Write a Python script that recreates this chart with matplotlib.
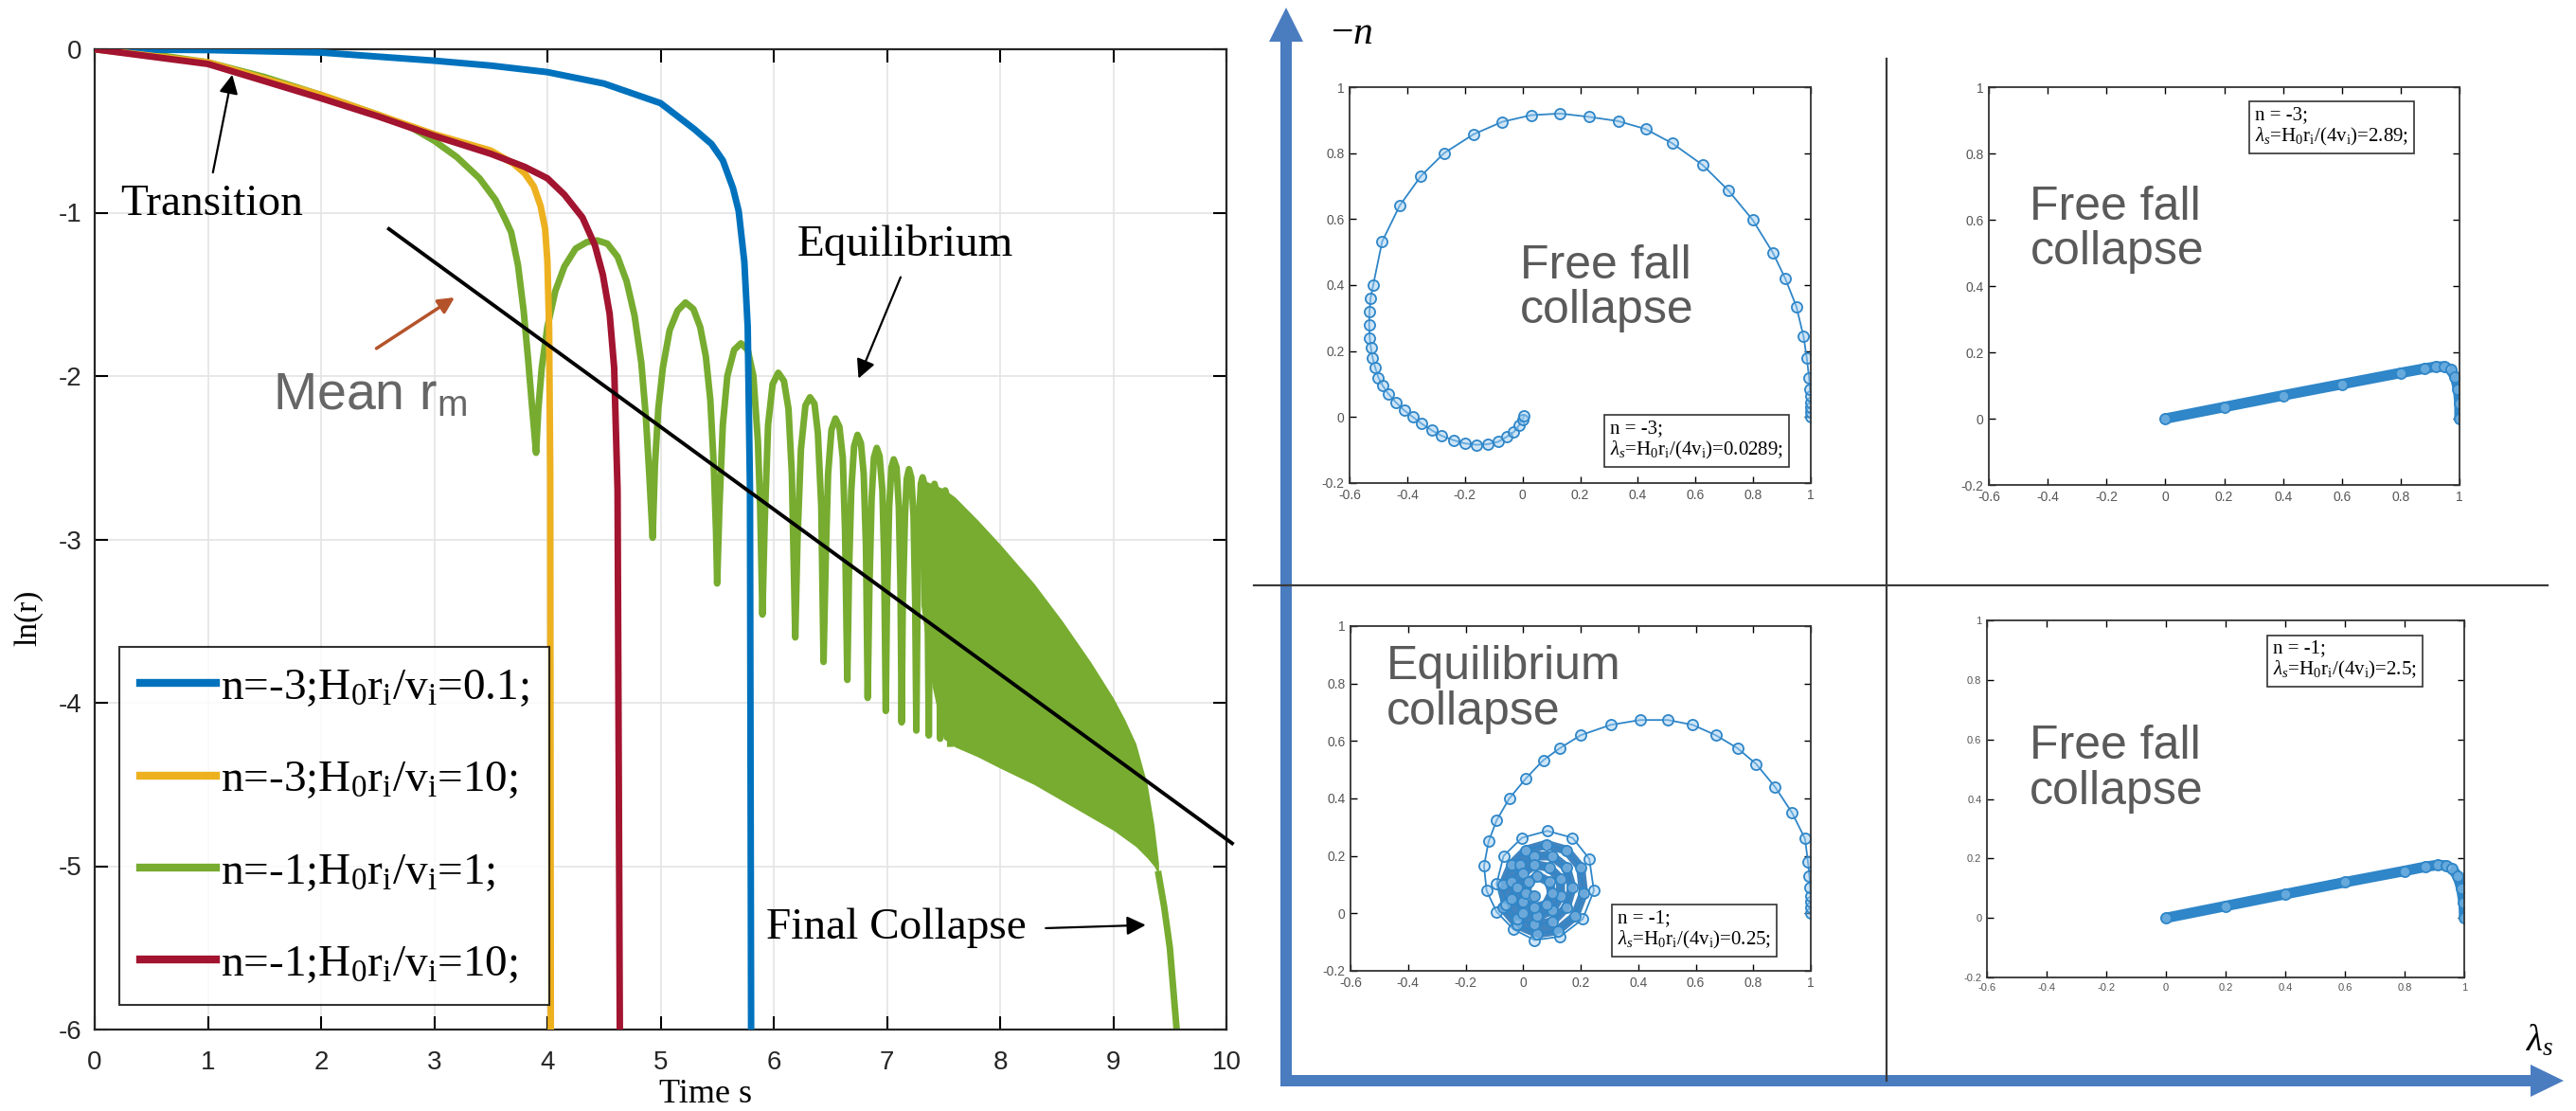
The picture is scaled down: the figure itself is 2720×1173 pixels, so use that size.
import numpy as np
import matplotlib.pyplot as plt

plt.rcParams['font.family'] = ['Liberation Sans', 'DejaVu Sans']
plt.rcParams['mathtext.fontset'] = 'custom'
plt.rcParams['mathtext.rm'] = 'Liberation Serif'
plt.rcParams['mathtext.it'] = 'Liberation Serif:italic'
plt.rcParams['mathtext.sf'] = 'Liberation Sans'
plt.rcParams['axes.unicode_minus'] = False

# ---------------- left panel: ln(r) against time ----------------
blue_t = [0, 1, 2, 3, 3.5, 4, 4.5, 5.0, 5.3, 5.45, 5.55, 5.64, 5.69, 5.74, 5.77, 5.79, 5.8]
blue_v = [0, -0.005, -0.02, -0.07, -0.1, -0.14, -0.21, -0.33, -0.49, -0.58, -0.68, -0.85, -0.99, -1.3, -1.7, -2.7, -6]

yellow_t = [0, 1, 2, 2.5, 3, 3.3, 3.5, 3.7, 3.8, 3.88, 3.94, 3.98, 4.0, 4.015, 4.025, 4.03]
yellow_v = [0, -0.08, -0.28, -0.4, -0.52, -0.58, -0.62, -0.7, -0.76, -0.84, -0.96, -1.1, -1.3, -1.7, -2.6, -6]

red_t = [0, 1, 2, 2.5, 3, 3.5, 3.8, 4.0, 4.15, 4.31, 4.42, 4.49, 4.55, 4.59, 4.62, 4.64]
red_v = [0, -0.09, -0.3, -0.41, -0.53, -0.64, -0.72, -0.79, -0.89, -1.03, -1.2, -1.38, -1.62, -1.95, -2.7, -6]

# green: read arc by arc (trough -> peak -> trough)
green_t = [0, 0.5, 1.0, 1.5, 2.0, 2.5, 2.8, 3.0, 3.2, 3.4, 3.54, 3.62, 3.68, 3.74, 3.79, 3.83, 3.86, 3.9,
           3.92, 3.95, 4.0, 4.07, 4.15, 4.25, 4.35, 4.44, 4.53, 4.62, 4.7, 4.77, 4.83, 4.87, 4.9, 4.93,
           4.95, 4.98, 5.02, 5.08, 5.15, 5.22, 5.29, 5.35, 5.4, 5.44, 5.47, 5.49, 5.5,
           5.52, 5.55, 5.59, 5.65, 5.71, 5.77, 5.82, 5.86, 5.88, 5.9,
           5.92, 5.95, 5.99, 6.04, 6.09, 6.13, 6.16, 6.19,
           6.21, 6.24, 6.28, 6.32, 6.36, 6.39, 6.42, 6.44,
           6.46, 6.48, 6.51, 6.545, 6.58, 6.61, 6.63, 6.65,
           6.665, 6.685, 6.71, 6.74, 6.77, 6.795, 6.815, 6.83,
           6.845, 6.865, 6.885, 6.91, 6.935, 6.96, 6.975, 6.99,
           7.0, 7.02, 7.04, 7.06, 7.085, 7.105, 7.12, 7.13,
           7.14, 7.16, 7.175, 7.195, 7.215, 7.235, 7.25, 7.26,
           7.27, 7.285, 7.3, 7.315, 7.33, 7.345, 7.36, 7.37,
           7.38, 7.395, 7.41, 7.42, 7.435, 7.45, 7.46, 7.47,
           7.48, 7.49, 7.505, 7.515, 7.53, 7.54, 7.55, 7.56]
green_v = [0, -0.03, -0.08, -0.17, -0.28, -0.4, -0.48, -0.56, -0.66, -0.79, -0.92, -1.03, -1.12, -1.32, -1.6, -1.9, -2.15, -2.47,
           -2.2, -1.95, -1.7, -1.48, -1.33, -1.22, -1.18, -1.17, -1.19, -1.27, -1.42, -1.63, -1.92, -2.25, -2.6, -2.99,
           -2.55, -2.2, -1.95, -1.72, -1.6, -1.55, -1.59, -1.7, -1.88, -2.15, -2.55, -2.95, -3.27,
           -2.8, -2.3, -2.0, -1.84, -1.8, -1.84, -2.0, -2.4, -2.8, -3.46,
           -2.9, -2.3, -2.05, -1.98, -2.03, -2.2, -2.6, -3.6,
           -3.0, -2.45, -2.18, -2.13, -2.17, -2.35, -2.8, -3.75,
           -3.1, -2.6, -2.33, -2.26, -2.31, -2.5, -2.95, -3.86,
           -3.2, -2.7, -2.43, -2.36, -2.41, -2.6, -3.05, -3.97,
           -3.3, -2.75, -2.5, -2.44, -2.49, -2.7, -3.1, -4.05,
           -3.4, -2.8, -2.56, -2.51, -2.56, -2.8, -3.3, -4.12,
           -3.4, -2.85, -2.63, -2.57, -2.62, -2.85, -3.4, -4.17,
           -3.4, -2.85, -2.66, -2.62, -2.66, -2.85, -3.4, -4.2,
           -3.4, -2.85, -2.7, -2.66, -2.7, -2.9, -3.4, -4.22,
           -3.4, -2.9, -2.73, -2.7, -2.74, -2.95, -3.4, -4.25]
# dense part of the green oscillation (upper / lower envelope)
band_t = [7.3, 7.4, 7.5, 7.6, 7.8, 8.0, 8.3, 8.55, 8.8, 9.0, 9.1, 9.2, 9.3, 9.36, 9.4]
band_hi = [-2.63, -2.66, -2.69, -2.74, -2.88, -3.03, -3.27, -3.5, -3.75, -3.97, -4.1, -4.25, -4.5, -4.75, -4.98]
band_lo = [-3.4, -3.9, -4.22, -4.27, -4.33, -4.4, -4.5, -4.6, -4.7, -4.78, -4.83, -4.88, -4.95, -5.0, -5.05]
tail_t = [9.4, 9.45, 9.5, 9.53, 9.56]
tail_v = [-5.05, -5.25, -5.5, -5.75, -6.0]

mean_t = [2.6, 10.05]
mean_v = [-1.1, -4.86]

legend_labels = [r'n=-3;H$_0$r$_\mathrm{i}$/v$_\mathrm{i}$=0.1;',
                 r'n=-3;H$_0$r$_\mathrm{i}$/v$_\mathrm{i}$=10;',
                 r'n=-1;H$_0$r$_\mathrm{i}$/v$_\mathrm{i}$=1;',
                 r'n=-1;H$_0$r$_\mathrm{i}$/v$_\mathrm{i}$=10;']
x_ticks = [0, 1, 2, 3, 4, 5, 6, 7, 8, 9, 10]
y_ticks = [0, -1, -2, -3, -4, -5, -6]

# ---------------- right panels: trajectories ----------------
tl_x = [1.0, 1.0, 1.0, 1.0, 0.999, 0.997, 0.994, 0.986, 0.975, 0.95, 0.912, 0.868, 0.798, 0.714, 0.625, 0.519,
        0.427, 0.332, 0.23, 0.13, 0.03, -0.07, -0.17, -0.272, -0.352, -0.426, -0.487, -0.518, -0.527, -0.531,
        -0.532, -0.53, -0.526, -0.52, -0.511, -0.5, -0.485, -0.465, -0.44, -0.41, -0.38, -0.35, -0.315, -0.28,
        -0.24, -0.2, -0.16, -0.12, -0.085, -0.055, -0.03, -0.012, 0.0, 0.006]
tl_y = [0.0, 0.015, 0.03, 0.045, 0.065, 0.085, 0.12, 0.18, 0.244, 0.335, 0.419, 0.499, 0.598, 0.687, 0.764, 0.83,
        0.873, 0.897, 0.91, 0.92, 0.915, 0.895, 0.857, 0.8, 0.731, 0.641, 0.532, 0.4, 0.36, 0.32,
        0.28, 0.24, 0.21, 0.18, 0.15, 0.12, 0.095, 0.07, 0.045, 0.02, 0.0, -0.02, -0.04, -0.057,
        -0.07, -0.08, -0.084, -0.082, -0.075, -0.06, -0.045, -0.025, -0.008, 0.005]

tr_x = [0, 0.2, 0.4, 0.6, 0.8, 0.88, 0.92, 0.95, 0.97, 0.985, 0.995, 1.0, 1.0]
tr_y = [0, 0.035, 0.07, 0.104, 0.138, 0.151, 0.157, 0.157, 0.148, 0.125, 0.09, 0.045, 0.0]

bl_x = [1.0, 1.0, 1.0, 1.0, 0.998, 0.995, 0.99, 0.98, 0.935, 0.876, 0.81, 0.745, 0.67, 0.59, 0.504, 0.407,
        0.304, 0.2, 0.128, 0.07, 0.01, -0.048, -0.092, -0.12, -0.136, -0.127, -0.092, -0.033,
        0.04, 0.128, 0.207, 0.246, 0.23, 0.172, 0.084, -0.004, -0.068, -0.092,
        -0.07, -0.02, 0.05, 0.12, 0.18, 0.21, 0.2, 0.15, 0.08, 0.01, -0.04, -0.07,
        -0.06, -0.02, 0.04, 0.1, 0.15, 0.17, 0.15, 0.1, 0.04, -0.01, -0.04,
        -0.04, 0.0, 0.05, 0.1, 0.13, 0.13, 0.09, 0.04, 0.0, -0.02,
        0.0, 0.04, 0.08, 0.1, 0.09, 0.05, 0.02, 0.01, 0.04]
bl_y = [0.0, 0.02, 0.04, 0.06, 0.09, 0.13, 0.18, 0.26, 0.35, 0.44, 0.52, 0.575, 0.62, 0.656, 0.673, 0.673,
        0.656, 0.62, 0.575, 0.533, 0.47, 0.4, 0.324, 0.25, 0.165, 0.079, 0.005, -0.056,
        -0.093, -0.081, -0.02, 0.079, 0.19, 0.263, 0.287, 0.263, 0.2, 0.103,
        0.02, -0.04, -0.07, -0.06, -0.01, 0.07, 0.16, 0.22, 0.24, 0.22, 0.17, 0.1,
        0.03, -0.02, -0.04, -0.03, 0.02, 0.09, 0.16, 0.2, 0.2, 0.17, 0.11,
        0.05, 0.0, -0.01, 0.01, 0.06, 0.12, 0.16, 0.17, 0.14, 0.09,
        0.04, 0.02, 0.03, 0.07, 0.11, 0.13, 0.11, 0.07, 0.06]
bl_core = 38  # from here on the trajectory winds in the dense core

br_x = [0, 0.2, 0.4, 0.6, 0.8, 0.87, 0.91, 0.94, 0.96, 0.978, 0.99, 0.998, 1.0]
br_y = [0, 0.04, 0.08, 0.12, 0.158, 0.172, 0.178, 0.176, 0.165, 0.14, 0.1, 0.05, 0.0]

sm_xticks = [-0.6, -0.4, -0.2, 0, 0.2, 0.4, 0.6, 0.8, 1]
sm_xlabels = ['-0.6', '-0.4', '-0.2', '0', '0.2', '0.4', '0.6', '0.8', '1']
sm_yticks = [-0.2, 0, 0.2, 0.4, 0.6, 0.8, 1]
sm_ylabels = ['-0.2', '0', '0.2', '0.4', '0.6', '0.8', '1']

BLUE, YELLOW, GREEN, RED = '#0072BD', '#EDB120', '#77AC30', '#A2142F'
ARROW = '#4a7cc0'
SPIRAL = '#2f86c8'
SERIF = ['Liberation Serif', 'DejaVu Serif']

fig = plt.figure(figsize=(27.2, 11.73), dpi=100)

# overlay in pixel units for the big arrows and dividers
ov = fig.add_axes([0, 0, 1, 1])
ov.set_xlim(0, 2720)
ov.set_ylim(1173, 0)
ov.axis('off')
ov.plot([1992, 1992], [62, 1141], color='#3a3a3a', lw=1.6)
ov.plot([1324, 2690], [618, 618], color='#3a3a3a', lw=1.6)
ov.arrow(1358, 1147, 0, -1139, width=12, head_width=36, head_length=36,
         length_includes_head=True, color=ARROW, lw=0)
ov.arrow(1352, 1141, 1355, 0, width=12, head_width=34, head_length=35,
         length_includes_head=True, color=ARROW, lw=0)
ov.text(1405, 35, r'$-n$', fontsize=30, ha='left', va='center')
ov.text(2682, 1098, r'$\lambda_s$', fontsize=28, ha='center', va='center')

# ---- left plot ----
ax = fig.add_axes([100/2720, 1 - 1087/1173, 1195/2720, 1035/1173])
ax.fill_between(band_t, band_hi, band_lo, color=GREEN, lw=0, zorder=2)
lg, = ax.plot(green_t, green_v, color=GREEN, lw=5, zorder=2, solid_joinstyle='round')
ax.plot(tail_t, tail_v, color=GREEN, lw=5, zorder=2)
lb, = ax.plot(blue_t, blue_v, color=BLUE, lw=5, zorder=3)
ly, = ax.plot(yellow_t, yellow_v, color=YELLOW, lw=5, zorder=3)
lr, = ax.plot(red_t, red_v, color=RED, lw=5, zorder=3)
ax.plot(mean_t, mean_v, color='black', lw=2.8, zorder=5, clip_on=False)

ax.set_xlim(0, 10)
ax.set_ylim(-6, 0)
ax.set_xticks(x_ticks)
ax.set_xticklabels([str(v) for v in x_ticks])
ax.set_yticks(y_ticks)
ax.set_yticklabels([str(v) for v in y_ticks])
ax.grid(True, color='#e4e4e4', lw=1.2)
ax.tick_params(direction='in', length=10, width=1.5, top=True, right=True,
               labelsize=20, labelcolor='#262626')
ax.tick_params(axis='x', pad=16)
ax.tick_params(axis='y', pad=10)
for s in ax.spines.values():
    s.set_color('#262626')
    s.set_linewidth(1.6)
ax.set_xlabel('Time s', family=SERIF, fontsize=26)
ax.xaxis.set_label_coords(0.54, -0.05)
ax.set_ylabel('ln(r)', family=SERIF, fontsize=24)
ax.yaxis.set_label_coords(-0.046, 0.42)

leg = ax.legend(handles=[lb, ly, lg, lr], labels=legend_labels, loc='lower left',
                bbox_to_anchor=(0.022, 0.025), borderaxespad=0,
                prop={'family': SERIF, 'size': 34}, fancybox=False, edgecolor='black',
                handlelength=1.7, handletextpad=0.1, labelspacing=1.15, borderpad=0.45)
leg.get_frame().set_linewidth(1.5)
for h in leg.get_lines():
    h.set_linewidth(6)

ax.text(0.23, -0.95, 'Transition', family=SERIF, fontsize=34, va='center')
ax.annotate('', xy=(1.22, -0.14), xytext=(1.04, -0.77),
            arrowprops=dict(arrowstyle='-|>', color='black', lw=1.6, mutation_scale=30))
ax.text(7.16, -1.2, 'Equilibrium', family=SERIF, fontsize=34, ha='center', va='center')
ax.annotate('', xy=(6.74, -2.03), xytext=(7.13, -1.38),
            arrowprops=dict(arrowstyle='-|>', color='black', lw=1.6, mutation_scale=30))
ax.text(5.93, -5.38, 'Final Collapse', family=SERIF, fontsize=34, va='center')
ax.annotate('', xy=(9.31, -5.36), xytext=(8.38, -5.38),
            arrowprops=dict(arrowstyle='-|>', color='black', lw=1.6, mutation_scale=30))
ax.text(1.57, -2.12, r'Mean r$_\mathsf{m}$', color='#666666', fontsize=40, va='center')
ax.annotate('', xy=(3.2, -1.51), xytext=(2.47, -1.84),
            arrowprops=dict(arrowstyle='-|>', color='#b4532a', lw=2.5, mutation_scale=25))


# ---- four small trajectory panels ----
def small_panel(rect, xs, ys, title, tx, ty, box, bx, by, thick, tsize=10, bsize=15):
    a = fig.add_axes(rect)
    if thick:
        a.plot(xs, ys, color=SPIRAL, lw=8, solid_capstyle='round')
    a.plot(xs, ys, color=SPIRAL, lw=1.3, marker='o', ms=8,
           mfc=(0.62, 0.8, 0.94, 0.5), mec=SPIRAL, mew=1.3)
    a.set_xlim(-0.6, 1)
    a.set_ylim(-0.2, 1)
    a.set_xticks(sm_xticks)
    a.set_xticklabels(sm_xlabels)
    a.set_yticks(sm_yticks)
    a.set_yticklabels(sm_ylabels)
    a.tick_params(direction='in', length=5, width=1, top=True, right=True,
                  labelsize=tsize, labelcolor='#555555', pad=4)
    for s in a.spines.values():
        s.set_color('#333333')
        s.set_linewidth(1.3)
    a.text(tx, ty, title, color='#5a5a5a', fontsize=36, ha='left', va='center', linespacing=1.05)
    a.text(bx, by, box, transform=a.transAxes, family=SERIF, fontsize=bsize,
           ha='left', va='center', linespacing=1.1,
           bbox=dict(boxstyle='square,pad=0.3', fc='white', ec='#333333', lw=1.2))
    return a


box_tl = 'n = -3;\n' + r'$\lambda_s$=H$_0$r$_\mathrm{i}$/(4v$_\mathrm{i}$)=0.0289;'
box_tr = 'n = -3;\n' + r'$\lambda_s$=H$_0$r$_\mathrm{i}$/(4v$_\mathrm{i}$)=2.89;'
box_bl = 'n = -1;\n' + r'$\lambda_s$=H$_0$r$_\mathrm{i}$/(4v$_\mathrm{i}$)=0.25;'
box_br = 'n = -1;\n' + r'$\lambda_s$=H$_0$r$_\mathrm{i}$/(4v$_\mathrm{i}$)=2.5;'

small_panel([1425/2720, 1 - 510/1173, 487/2720, 418/1173], tl_x, tl_y,
            'Free fall\ncollapse', -0.01, 0.39, box_tl, 0.565, 0.108, False)
small_panel([2100/2720, 1 - 512/1173, 497/2720, 420/1173], tr_x, tr_y,
            'Free fall\ncollapse', -0.46, 0.57, box_tr, 0.565, 0.9, True)
bl = small_panel([1426/2720, 1 - 1025/1173, 486/2720, 364/1173], bl_x, bl_y,
                 'Equilibrium\ncollapse', -0.474, 0.78, box_bl, 0.58, 0.118, False)
bl.plot(bl_x[bl_core:], bl_y[bl_core:], color='#1f6fb5', lw=7, alpha=0.85,
        solid_joinstyle='round', zorder=1)
small_panel([2098/2720, 1 - 1032/1173, 504/2720, 377/1173], br_x, br_y,
            'Free fall\ncollapse', -0.457, 0.5, box_br, 0.6, 0.888, True, tsize=8)

fig.savefig('out.png', dpi=100)
